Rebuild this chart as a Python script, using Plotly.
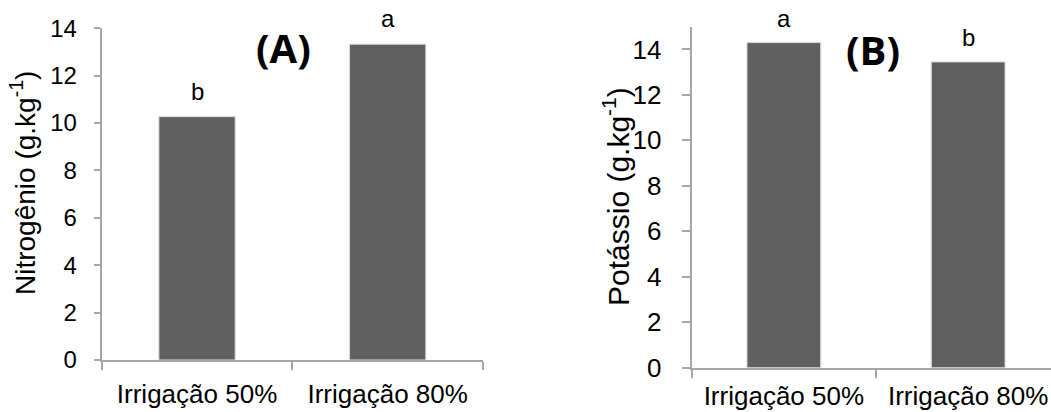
import plotly.graph_objects as go

W, H = 1051, 412

categories = ["Irrigação 50%", "Irrigação 80%"]
nitrogenio = [10.27, 13.33]
potassio = [14.30, 13.45]
letters_n = ["b", "a"]
letters_k = ["a", "b"]
yticks_n = [0, 2, 4, 6, 8, 10, 12, 14]
yticks_k = [0, 2, 4, 6, 8, 10, 12, 14]

FONT = "Liberation Sans, Arial, sans-serif"
BAR = "#606060"
AXIS = "#a6a6a6"

fig = go.Figure()
fig.add_trace(go.Bar(x=categories, y=nitrogenio, xaxis="x", yaxis="y",
                     marker=dict(color=BAR, line=dict(color="#d9d9d9", width=1)),
                     width=0.4, showlegend=False, hoverinfo="skip"))
fig.add_trace(go.Bar(x=categories, y=potassio, xaxis="x2", yaxis="y2",
                     marker=dict(color=BAR, line=dict(color="#d9d9d9", width=1)),
                     width=0.4, showlegend=False, hoverinfo="skip"))

def px_x(p):
    return p / W

def px_y(p):
    return (H - p) / H

def xax(**kw):
    d = dict(type="category", showline=True, linecolor=AXIS, linewidth=2,
             ticks="outside", tickson="boundaries", ticklen=8, tickcolor=AXIS,
             tickwidth=2, showgrid=False, zeroline=False, automargin=False,
             tickfont=dict(family=FONT, size=26, color="#000"))
    d.update(kw)
    return d

def yax(**kw):
    d = dict(showline=True, linecolor=AXIS, linewidth=2, ticks="outside",
             ticklen=6, tickcolor=AXIS, tickwidth=2, showgrid=False,
             zeroline=False, automargin=False,
             tickfont=dict(family=FONT, size=24, color="#000"))
    d.update(kw)
    return d

fig.update_layout(
    width=W, height=H, margin=dict(l=0, r=0, t=0, b=0, autoexpand=False),
    paper_bgcolor="white", plot_bgcolor="white",
    xaxis=xax(domain=[px_x(101.7), px_x(483)], range=[-0.5, 1.5], anchor="y",
              ticklabelstandoff=10),
    yaxis=yax(domain=[px_y(360), px_y(28.3)], range=[0, 14], tickvals=yticks_n,
              anchor="x", ticklabelstandoff=12),
    xaxis2=xax(domain=[px_x(691.7), 1.0], range=[-0.5, 1.4495], anchor="y2",
               ticklabelstandoff=4),
    yaxis2=yax(domain=[px_y(367.7), px_y(26.7)], range=[0, 15], tickvals=yticks_k,
               anchor="x2", ticklen=8, ticklabelstandoff=15,
               tickfont=dict(family=FONT, size=26, color="#000")),
)

ann = []
for c, v, t in zip(categories, nitrogenio, letters_n):
    ann.append(dict(x=c, y=v, xref="x", yref="y", text=t, showarrow=False,
                    yanchor="bottom", yshift=10,
                    font=dict(family=FONT, size=24, color="#000")))
for c, v, t in zip(categories, potassio, letters_k):
    ann.append(dict(x=c, y=v, xref="x2", yref="y2", text=t, showarrow=False,
                    yanchor="bottom", yshift=9,
                    font=dict(family=FONT, size=24, color="#000")))

ann.append(dict(x=px_x(283), y=px_y(48), xref="paper", yref="paper", text="<b>(A)</b>",
                showarrow=False, xanchor="center", yanchor="middle",
                font=dict(family="Open Sans, sans-serif", size=40, color="#000")))
ann.append(dict(x=px_x(873), y=px_y(50), xref="paper", yref="paper", text="<b>(B)</b>",
                showarrow=False, xanchor="center", yanchor="middle",
                font=dict(family="Open Sans, sans-serif", size=40, color="#000")))

ann.append(dict(x=px_x(23), y=px_y(183), xref="paper", yref="paper",
                text="Nitrogênio (g.kg<sup>-1</sup>)", textangle=-90, showarrow=False,
                xanchor="center", yanchor="middle",
                font=dict(family=FONT, size=28, color="#000")))
ann.append(dict(x=px_x(616), y=px_y(197), xref="paper", yref="paper",
                text="Potássio (g.kg<sup>-1</sup>)", textangle=-90, showarrow=False,
                xanchor="center", yanchor="middle",
                font=dict(family=FONT, size=30, color="#000")))

fig.update_layout(annotations=ann)
fig.write_html("out.html", config={"displayModeBar": False},
               post_script="document.body.style.margin='0';document.body.style.overflow='hidden';")
